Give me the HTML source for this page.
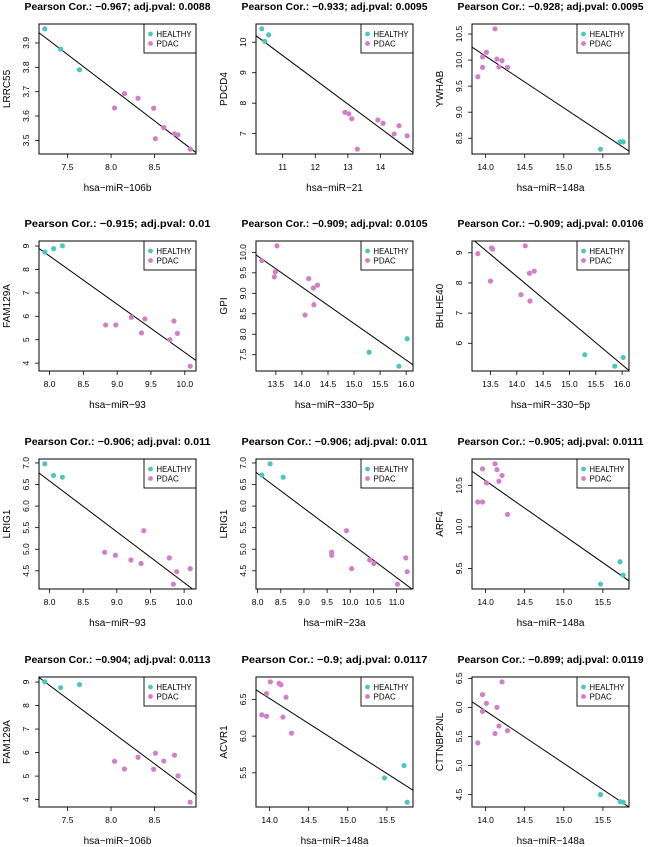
<!DOCTYPE html>
<html><head><meta charset="utf-8">
<style>
html,body{margin:0;padding:0;background:#fff;}
svg{display:block;font-family:"Liberation Sans",Arial,sans-serif;}
</style></head>
<body>
<svg id="chart" width="650" height="847" viewBox="0 0 650 847"></svg>
<script>
// ---- data ----
const x148H = [15.47, 15.72, 15.76];
const x148P = [13.90, 13.96, 13.96, 14.01, 14.12, 14.145, 14.17, 14.21, 14.28];
const x106H = [7.238, 7.42, 7.637];
const x106P = [8.04, 8.154, 8.31, 8.49, 8.606, 8.51, 8.73, 8.77, 8.91];

const p1yH = [3.958, 3.875, 3.79];
const p1yP = [3.633, 3.692, 3.673, 3.632, 3.553, 3.507, 3.527, 3.523, 3.464];

const p2xH = [10.36, 10.45, 10.57];
const p2yH = [10.44, 10.03, 10.24];
const p2xP = [12.91, 13.03, 13.12, 13.29, 13.92, 14.08, 14.42, 14.57, 14.82];
const p2yP = [7.70, 7.65, 7.49, 6.49, 7.45, 7.34, 6.99, 7.26, 6.93];

const p3yH = [8.29, 8.43, 8.43];
const p3yP = [9.68, 10.06, 9.86, 10.15, 10.60, 10.02, 9.87, 9.99, 9.86];

const x93H = [7.93, 8.06, 8.19];
const x93P = [8.83, 8.98, 9.21, 9.36, 9.41, 9.78, 9.84, 9.89, 10.08];
const p4yH = [8.74, 8.89, 9.01];
const p4yP = [5.63, 5.63, 5.96, 5.29, 5.89, 5.00, 5.80, 5.27, 3.87];

const x330H = [15.29, 15.86, 16.02];
const x330P = [13.23, 13.52, 13.49, 13.47, 14.13, 14.22, 14.30, 14.23, 14.06];
const p5yH = [7.56, 7.22, 7.89];
const p5yP = [9.80, 10.16, 9.52, 9.40, 9.36, 9.13, 9.20, 8.72, 8.47];

const p6xH = [15.32, 15.87, 16.04];
const p6yH = [5.62, 5.24, 5.53];
const p6xP = [13.26, 13.52, 13.54, 13.50, 14.16, 14.08, 14.25, 14.24, 14.33];
const p6yP = [8.97, 9.16, 9.12, 8.06, 9.23, 7.61, 7.40, 8.32, 8.39];

const p7yH = [6.98, 6.71, 6.67];
const p7xP = [8.82, 8.98, 9.21, 9.36, 9.40, 9.78, 9.89, 9.84, 10.09];
const p7yP = [4.93, 4.86, 4.75, 4.67, 5.43, 4.80, 4.48, 4.19, 4.55];

const p8xH = [8.09, 8.27, 8.55];
const p8yH = [6.72, 6.98, 6.67];
const p8xP = [9.60, 9.60, 9.92, 10.03, 10.42, 10.51, 11.02, 11.20, 11.23];
const p8yP = [4.93, 4.86, 5.43, 4.55, 4.75, 4.67, 4.19, 4.80, 4.48];

const p9yH = [9.31, 9.58, 9.42];
const p9yP = [10.30, 10.30, 10.70, 10.53, 10.76, 10.69, 10.55, 10.62, 10.15];

const p10yH = [9.01, 8.76, 8.89];
const p10xP = [8.04, 8.154, 8.31, 8.49, 8.51, 8.606, 8.73, 8.77, 8.91];
const p10yP = [5.63, 5.30, 5.80, 5.29, 5.97, 5.64, 5.89, 5.01, 3.89];

const p11yH = [5.43, 5.60, 5.10];
const p11yP = [6.29, 6.27, 6.58, 6.74, 6.72, 6.70, 6.26, 6.53, 6.04];

const p12yH = [4.50, 4.38, 4.37];
const p12yP = [5.39, 6.22, 5.93, 6.07, 5.55, 6.00, 5.68, 6.44, 5.60];

const titles = [
 "Pearson Cor.: \u22120.967; adj.pval: 0.0088","Pearson Cor.: \u22120.933; adj.pval: 0.0095","Pearson Cor.: \u22120.928; adj.pval: 0.0095",
 "Pearson Cor.: \u22120.915; adj.pval: 0.01","Pearson Cor.: \u22120.909; adj.pval: 0.0105","Pearson Cor.: \u22120.909; adj.pval: 0.0106",
 "Pearson Cor.: \u22120.906; adj.pval: 0.011","Pearson Cor.: \u22120.906; adj.pval: 0.011","Pearson Cor.: \u22120.905; adj.pval: 0.0111",
 "Pearson Cor.: \u22120.904; adj.pval: 0.0113","Pearson Cor.: \u22120.9; adj.pval: 0.0117","Pearson Cor.: \u22120.899; adj.pval: 0.0119"];
const xLabels = ["hsa\u2212miR\u2212106b","hsa\u2212miR\u221221","hsa\u2212miR\u2212148a","hsa\u2212miR\u221293","hsa\u2212miR\u2212330\u22125p","hsa\u2212miR\u2212330\u22125p","hsa\u2212miR\u221293","hsa\u2212miR\u221223a","hsa\u2212miR\u2212148a","hsa\u2212miR\u2212106b","hsa\u2212miR\u2212148a","hsa\u2212miR\u2212148a"];
const yLabels = ["LRRC55","PDCD4","YWHAB","FAM129A","GPI","BHLHE40","LRIG1","LRIG1","ARF4","FAM129A","ACVR1","CTTNBP2NL"];

const xt106 = ["7.5","8.0","8.5"];
const xt21 = ["11","12","13","14"];
const xt148 = ["14.0","14.5","15.0","15.5"];
const xt93 = ["8.0","8.5","9.0","9.5","10.0"];
const xt330 = ["13.5","14.0","14.5","15.0","15.5","16.0"];
const xt23 = ["8.0","8.5","9.0","9.5","10.0","10.5","11.0"];
const yt1 = ["3.5","3.6","3.7","3.8","3.9"];
const yt2 = ["7","8","9","10"];
const yt3 = ["8.5","9.0","9.5","10.0","10.5"];
const yt4 = ["4","5","6","7","8","9"];
const yt5 = ["7.5","8.0","8.5","9.0","9.5","10.0"];
const yt6 = ["6","7","8","9"];
const yt7 = ["4.5","5.0","5.5","6.0","6.5","7.0"];
const yt9 = ["9.5","10.0","10.5"];
const yt11 = ["5.5","6.0","6.5"];
const yt12 = ["4.5","5.0","5.5","6.0","6.5"];

const panels = [
 {xH:x106H,yH:p1yH,xP:x106P,yP:p1yP,xt:xt106,yt:yt1},
 {xH:p2xH,yH:p2yH,xP:p2xP,yP:p2yP,xt:xt21,yt:yt2},
 {xH:x148H,yH:p3yH,xP:x148P,yP:p3yP,xt:xt148,yt:yt3},
 {xH:x93H,yH:p4yH,xP:x93P,yP:p4yP,xt:xt93,yt:yt4},
 {xH:x330H,yH:p5yH,xP:x330P,yP:p5yP,xt:xt330,yt:yt5},
 {xH:x330H,yH:p6yH,xP:p6xP,yP:p6yP,xt:xt330,yt:yt6},
 {xH:x93H,yH:p7yH,xP:p7xP,yP:p7yP,xt:xt93,yt:yt7},
 {xH:p8xH,yH:p8yH,xP:p8xP,yP:p8yP,xt:xt23,yt:yt7},
 {xH:x148H,yH:p9yH,xP:x148P,yP:p9yP,xt:xt148,yt:yt9},
 {xH:x106H,yH:p10yH,xP:p10xP,yP:p10yP,xt:xt106,yt:yt4},
 {xH:x148H,yH:p11yH,xP:x148P,yP:p11yP,xt:xt148,yt:yt11},
 {xH:x148H,yH:p12yH,xP:x148P,yP:p12yP,xt:xt148,yt:yt12}
];

// ---- layout ----
const rowTops = [24, 241, 459, 677];
const colLefts = [39, 256, 472];
const boxW = 157, boxH = 130;
const cH = "#4ec5bf", cP = "#d27fc5";
const NS = "http://www.w3.org/2000/svg";
const svg = document.getElementById("chart");
function mk(tag, attrs, parent){ const e=document.createElementNS(NS,tag); for(const k in attrs) e.setAttribute(k,attrs[k]); (parent||svg).appendChild(e); return e; }
function ext(a){ let mn=Math.min(...a), mx=Math.max(...a), d=(mx-mn)*0.04; return [mn-d, mx+d]; }

panels.forEach((p, i) => {
  const L = colLefts[i%3], T = rowTops[Math.floor(i/3)];
  const g = mk("g", {});
  
  
  const allX = p.xH.concat(p.xP), allY = p.yH.concat(p.yP);
  const [x0,x1] = ext(allX), [y0,y1] = ext(allY);
  const sx = v => L + (v-x0)/(x1-x0)*boxW;
  const sy = v => T + boxH - (v-y0)/(y1-y0)*boxH;

  const t = mk("text", {x: L+boxW/2, y: T-14, "text-anchor":"middle", "font-size":"10.5", "font-weight":"bold", fill:"#000", textLength:"186", lengthAdjust:"spacingAndGlyphs"}, g);
  t.textContent = titles[i];
  
  

  p.xt.forEach(s => {
    const v = parseFloat(s), X = sx(v);
    if (X < L-1 || X > L+boxW+1) return;
    const tk = mk("line", {x1:X, x2:X, y1:T+boxH, y2:T+boxH+4, stroke:"#000", "stroke-width":"0.8"}, g);
    
    
    const tl = mk("text", {x:X, y:T+boxH+16, "text-anchor":"middle", "font-size":"8.5", fill:"#000"}, g);
    tl.textContent = s;
    
    
  });
  p.yt.forEach(s => {
    const v = parseFloat(s), Y = sy(v);
    if (Y < T-1 || Y > T+boxH+1) return;
    const tk = mk("line", {x1:L-4, x2:L, y1:Y, y2:Y, stroke:"#000", "stroke-width":"0.8"}, g);
    
    
    const tl = mk("text", {x:0, y:0, "text-anchor":"middle", "font-size":"8.5", fill:"#000", transform:`translate(${L-10},${Y}) rotate(-90)`}, g);
    tl.textContent = s;
    
    
  });
  const xl = mk("text", {x:L+boxW/2, y:T+boxH+37, "text-anchor":"middle", "font-size":"10", fill:"#000"}, g);
  xl.textContent = xLabels[i];
  
  
  const yl = mk("text", {x:0, y:0, "text-anchor":"middle", "font-size":"10", fill:"#000", transform:`translate(${L-29},${T+boxH/2}) rotate(-90)`}, g);
  yl.textContent = yLabels[i];
  
  

  const n = allX.length, mx = allX.reduce((a,b)=>a+b)/n, my = allY.reduce((a,b)=>a+b)/n;
  let sxy=0, sxx=0; for(let k=0;k<n;k++){ sxy+=(allX[k]-mx)*(allY[k]-my); sxx+=(allX[k]-mx)**2; }
  const b = sxy/sxx, a = my - b*mx;
  const cp = mk("clipPath", {id:"clip"+i}, g);
  mk("rect", {x:L, y:T, width:boxW, height:boxH}, cp);
  const fit = mk("line", {x1:sx(x0), y1:sy(a+b*x0), x2:sx(x1), y2:sy(a+b*x1), stroke:"#000", "stroke-width":"1", "clip-path":`url(#clip${i})`}, g);
  
  

  p.xP.forEach((v,k) => {
    const c = mk("circle", {cx:sx(v), cy:sy(p.yP[k]), r:2.6, fill:cP}, g);
    
    
  });
  p.xH.forEach((v,k) => {
    const c = mk("circle", {cx:sx(v), cy:sy(p.yH[k]), r:2.6, fill:cH}, g);
    
    
  });

  const lg = mk("g", {}, g);
  
  
  const lx = L+boxW-52, ly = T;
  mk("rect", {x:lx, y:ly, width:52, height:29, fill:"#fff", stroke:"#000", "stroke-width":"0.9"}, lg);
  const e1 = mk("circle", {cx:lx+6.5, cy:ly+10, r:2.4, fill:cH}, lg);
  
  
  const t1 = mk("text", {x:lx+12.5, y:ly+13, "font-size":"8", fill:"#000", textLength:"35", lengthAdjust:"spacingAndGlyphs"}, lg);
  t1.textContent = "HEALTHY";
  
  
  const e2 = mk("circle", {cx:lx+6.5, cy:ly+19.5, r:2.4, fill:cP}, lg);
  
  
  const t2 = mk("text", {x:lx+12.5, y:ly+22.5, "font-size":"8", fill:"#000"}, lg);
  t2.textContent = "PDAC";
  
  

  const box = mk("rect", {x:L, y:T, width:boxW, height:boxH, fill:"none", stroke:"#000", "stroke-width":"1"}, g);
  
  
});
</script>
</body></html>
